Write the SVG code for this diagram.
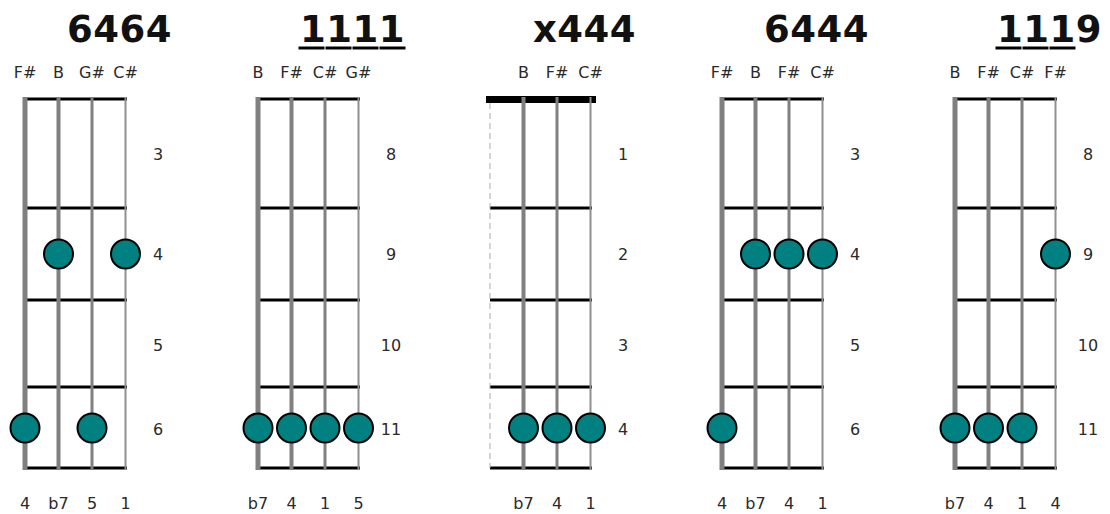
<svg xmlns="http://www.w3.org/2000/svg" width="1110" height="514" viewBox="0 0 1110 514">
<style>
.title{font-family:"DejaVu Sans",Verdana,sans-serif;font-weight:bold;font-size:37px;fill:#111;text-anchor:middle;letter-spacing:0.5px}
.lbl{font-family:"DejaVu Sans",Verdana,sans-serif;font-size:16px;fill:#2a2a2a;text-anchor:middle}
.fret{stroke:#000;stroke-width:3}
.nut{stroke:#000;stroke-width:7}
.s1{stroke:#808080;stroke-width:5}
.s2{stroke:#808080;stroke-width:4}
.s3{stroke:#808080;stroke-width:3}
.s4{stroke:#909090;stroke-width:2}
.mute{stroke:#aaa;stroke-width:1;stroke-dasharray:6 4}
.dot{fill:#008080;stroke:#000;stroke-width:2}
.ul{stroke:#000;stroke-width:3}
</style>
<defs>
<g id="frets">
<line class="fret" x1="0" y1="208" x2="102" y2="208"/>
<line class="fret" x1="0" y1="300" x2="102" y2="300"/>
<line class="fret" x1="0" y1="387" x2="102" y2="387"/>
<line class="fret" x1="0" y1="468" x2="102" y2="468"/>
</g>
</defs>

<g id="chord1" transform="translate(25,0)">
<text class="title" x="94.5" y="42">6464</text>
<text class="lbl" x="0" y="78">F#</text><text class="lbl" x="33.5" y="78">B</text><text class="lbl" x="67" y="78">G#</text><text class="lbl" x="100.5" y="78">C#</text>
<line class="fret" x1="0" y1="99" x2="102" y2="99"/>
<use href="#frets"/>
<line class="s1" x1="0" y1="97" x2="0" y2="470"/>
<line class="s2" x1="33.5" y1="97" x2="33.5" y2="470"/>
<line class="s3" x1="67" y1="97" x2="67" y2="470"/>
<line class="s4" x1="100.5" y1="97" x2="100.5" y2="470"/>
<text class="lbl" x="133" y="160">3</text><text class="lbl" x="133" y="260">4</text><text class="lbl" x="133" y="351">5</text><text class="lbl" x="133" y="435">6</text>
<circle class="dot" cx="33.5" cy="254" r="14.5"/><circle class="dot" cx="100.5" cy="254" r="14.5"/>
<circle class="dot" cx="0" cy="428" r="14.5"/><circle class="dot" cx="67" cy="428" r="14.5"/>
<text class="lbl" x="0" y="509">4</text><text class="lbl" x="33.5" y="509">b7</text><text class="lbl" x="67" y="509">5</text><text class="lbl" x="100.5" y="509">1</text>
</g>

<g id="chord2" transform="translate(258,0)">
<text class="title" x="94.5" y="42">1111</text>
<line class="ul" x1="40.5" y1="48" x2="66.5" y2="48"/><line class="ul" x1="67.5" y1="48" x2="93.5" y2="48"/><line class="ul" x1="94.5" y1="48" x2="120.5" y2="48"/><line class="ul" x1="121.5" y1="48" x2="147.5" y2="48"/>
<text class="lbl" x="0" y="78">B</text><text class="lbl" x="33.5" y="78">F#</text><text class="lbl" x="67" y="78">C#</text><text class="lbl" x="100.5" y="78">G#</text>
<line class="fret" x1="0" y1="99" x2="102" y2="99"/>
<use href="#frets"/>
<line class="s1" x1="0" y1="97" x2="0" y2="470"/>
<line class="s2" x1="33.5" y1="97" x2="33.5" y2="470"/>
<line class="s3" x1="67" y1="97" x2="67" y2="470"/>
<line class="s4" x1="100.5" y1="97" x2="100.5" y2="470"/>
<text class="lbl" x="133" y="160">8</text><text class="lbl" x="133" y="260">9</text><text class="lbl" x="133" y="351">10</text><text class="lbl" x="133" y="435">11</text>
<circle class="dot" cx="0" cy="428" r="14.5"/><circle class="dot" cx="33.5" cy="428" r="14.5"/><circle class="dot" cx="67" cy="428" r="14.5"/><circle class="dot" cx="100.5" cy="428" r="14.5"/>
<text class="lbl" x="0" y="509">b7</text><text class="lbl" x="33.5" y="509">4</text><text class="lbl" x="67" y="509">1</text><text class="lbl" x="100.5" y="509">5</text>
</g>

<g id="chord3" transform="translate(490,0)">
<text class="title" x="94.5" y="42">x444</text>
<text class="lbl" x="33.5" y="78">B</text><text class="lbl" x="67" y="78">F#</text><text class="lbl" x="100.5" y="78">C#</text>
<line class="nut" x1="-4" y1="99.5" x2="106" y2="99.5"/>
<use href="#frets"/>
<line class="mute" x1="0" y1="103" x2="0" y2="468"/>
<line class="s2" x1="33.5" y1="97" x2="33.5" y2="470"/>
<line class="s3" x1="67" y1="97" x2="67" y2="470"/>
<line class="s4" x1="100.5" y1="97" x2="100.5" y2="470"/>
<text class="lbl" x="133" y="160">1</text><text class="lbl" x="133" y="260">2</text><text class="lbl" x="133" y="351">3</text><text class="lbl" x="133" y="435">4</text>
<circle class="dot" cx="33.5" cy="428" r="14.5"/><circle class="dot" cx="67" cy="428" r="14.5"/><circle class="dot" cx="100.5" cy="428" r="14.5"/>
<text class="lbl" x="33.5" y="509">b7</text><text class="lbl" x="67" y="509">4</text><text class="lbl" x="100.5" y="509">1</text>
</g>

<g id="chord4" transform="translate(722,0)">
<text class="title" x="94.5" y="42">6444</text>
<text class="lbl" x="0" y="78">F#</text><text class="lbl" x="33.5" y="78">B</text><text class="lbl" x="67" y="78">F#</text><text class="lbl" x="100.5" y="78">C#</text>
<line class="fret" x1="0" y1="99" x2="102" y2="99"/>
<use href="#frets"/>
<line class="s1" x1="0" y1="97" x2="0" y2="470"/>
<line class="s2" x1="33.5" y1="97" x2="33.5" y2="470"/>
<line class="s3" x1="67" y1="97" x2="67" y2="470"/>
<line class="s4" x1="100.5" y1="97" x2="100.5" y2="470"/>
<text class="lbl" x="133" y="160">3</text><text class="lbl" x="133" y="260">4</text><text class="lbl" x="133" y="351">5</text><text class="lbl" x="133" y="435">6</text>
<circle class="dot" cx="33.5" cy="254" r="14.5"/><circle class="dot" cx="67" cy="254" r="14.5"/><circle class="dot" cx="100.5" cy="254" r="14.5"/>
<circle class="dot" cx="0" cy="428" r="14.5"/>
<text class="lbl" x="0" y="509">4</text><text class="lbl" x="33.5" y="509">b7</text><text class="lbl" x="67" y="509">4</text><text class="lbl" x="100.5" y="509">1</text>
</g>

<g id="chord5" transform="translate(955,0)">
<text class="title" x="94.5" y="42">1119</text>
<line class="ul" x1="40.5" y1="48" x2="66.5" y2="48"/><line class="ul" x1="67.5" y1="48" x2="93.5" y2="48"/><line class="ul" x1="94.5" y1="48" x2="120.5" y2="48"/>
<text class="lbl" x="0" y="78">B</text><text class="lbl" x="33.5" y="78">F#</text><text class="lbl" x="67" y="78">C#</text><text class="lbl" x="100.5" y="78">F#</text>
<line class="fret" x1="0" y1="99" x2="102" y2="99"/>
<use href="#frets"/>
<line class="s1" x1="0" y1="97" x2="0" y2="470"/>
<line class="s2" x1="33.5" y1="97" x2="33.5" y2="470"/>
<line class="s3" x1="67" y1="97" x2="67" y2="470"/>
<line class="s4" x1="100.5" y1="97" x2="100.5" y2="470"/>
<text class="lbl" x="133" y="160">8</text><text class="lbl" x="133" y="260">9</text><text class="lbl" x="133" y="351">10</text><text class="lbl" x="133" y="435">11</text>
<circle class="dot" cx="100.5" cy="254" r="14.5"/>
<circle class="dot" cx="0" cy="428" r="14.5"/><circle class="dot" cx="33.5" cy="428" r="14.5"/><circle class="dot" cx="67" cy="428" r="14.5"/>
<text class="lbl" x="0" y="509">b7</text><text class="lbl" x="33.5" y="509">4</text><text class="lbl" x="67" y="509">1</text><text class="lbl" x="100.5" y="509">4</text>
</g>
</svg>
